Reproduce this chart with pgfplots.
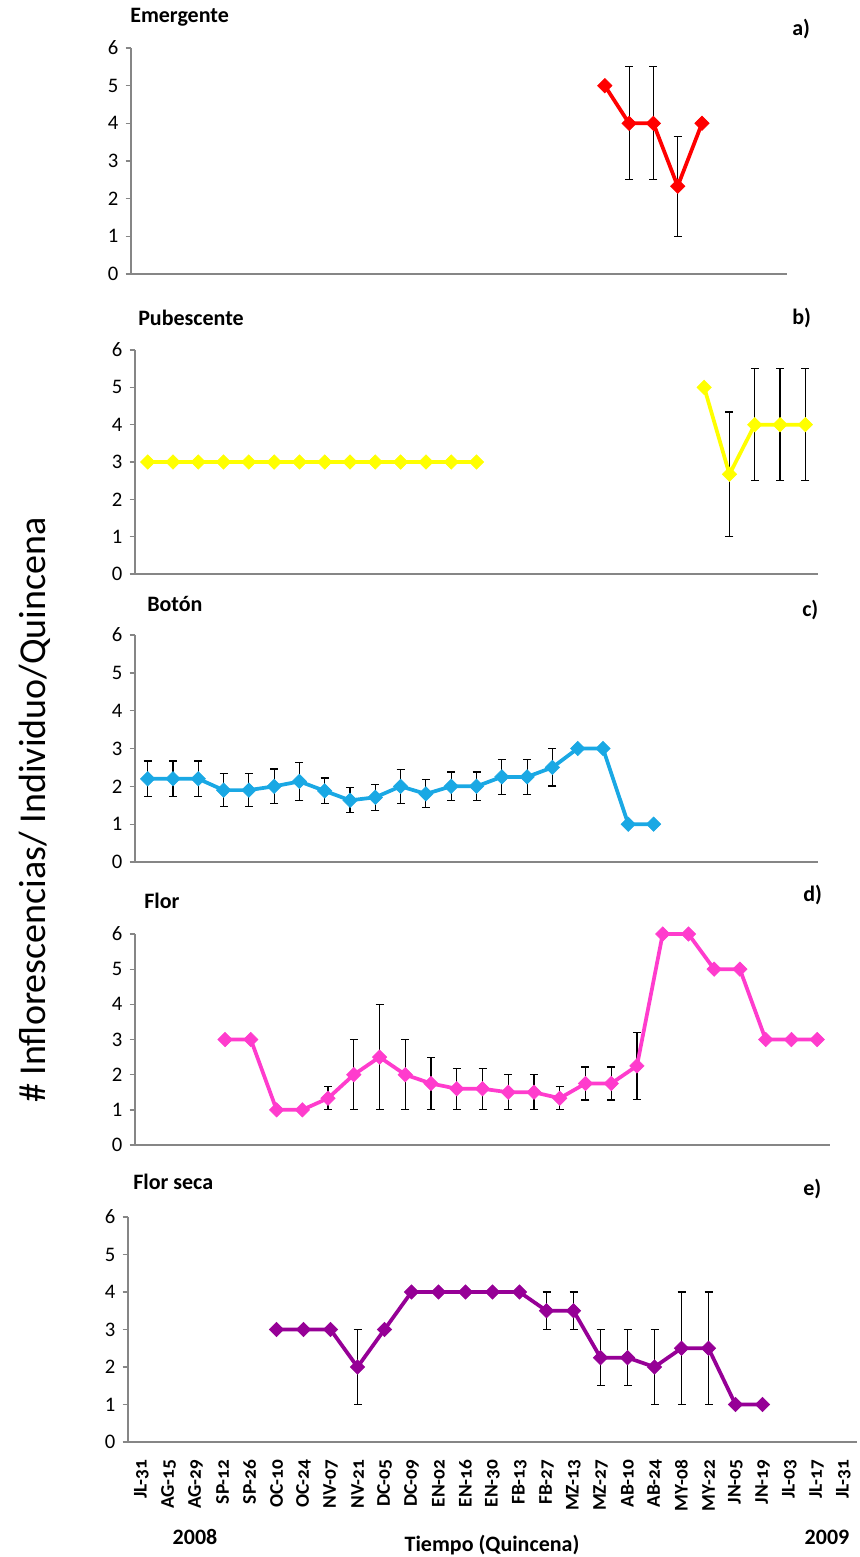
\documentclass[border=0pt]{standalone}
\usepackage{fontspec}
\setmainfont{Carlito}
\usepackage{pgfplots}
\usepackage{pgfplotstable}
\pgfplotsset{compat=1.18}
\newfontfamily\calb[Numbers=OldStyle]{Carlito}
\definecolor{axgray}{RGB}{134,134,134}
\definecolor{cred}{RGB}{255,0,0}
\definecolor{cyel}{RGB}{255,255,0}
\definecolor{cblue}{RGB}{26,168,228}
\definecolor{cpink}{RGB}{255,60,205}
\definecolor{cpurp}{RGB}{150,0,150}
\def\u{0.75bp}

\pgfplotstableread{
x y e
19 5 0
20 4 1.5
21 4 1.5
22 2.33 1.33
23 4 0
}\emergente

\pgfplotstableread{
x y e
0 3 0
1 3 0
2 3 0
3 3 0
4 3 0
5 3 0
6 3 0
7 3 0
8 3 0
9 3 0
10 3 0
11 3 0
12 3 0
13 3 0
14 nan 0
22 5 0
23 2.67 1.67
24 4 1.5
25 4 1.5
26 4 1.5
}\pubescente

\pgfplotstableread{
x y e
0 2.2 0.47
1 2.2 0.47
2 2.2 0.47
3 1.9 0.43
4 1.9 0.43
5 2.0 0.46
6 2.13 0.5
7 1.88 0.34
8 1.63 0.33
9 1.71 0.35
10 2.0 0.45
11 1.8 0.37
12 2.0 0.38
13 2.0 0.38
14 2.25 0.46
15 2.25 0.46
16 2.5 0.49
17 3 0
18 3 0
19 1 0
20 1 0
}\boton

\pgfplotstableread{
x y e
3 3 0
4 3 0
5 1 0
6 1 0
7 1.33 0.33
8 2 1
9 2.5 1.5
10 2 1
11 1.75 0.75
12 1.6 0.58
13 1.6 0.58
14 1.5 0.5
15 1.5 0.5
16 1.33 0.33
17 1.75 0.47
18 1.75 0.47
19 2.25 0.95
20 6 0
21 6 0
22 5 0
23 5 0
24 3 0
25 3 0
26 3 0
}\flor

\pgfplotstableread{
x y e
5 3 0
6 3 0
7 3 0
8 2 1
9 3 0
10 4 0
11 4 0
12 4 0
13 4 0
14 4 0
15 3.5 0.5
16 3.5 0.5
17 2.25 0.75
18 2.25 0.75
19 2 1
20 2.5 1.5
21 2.5 1.5
22 1 0
23 1 0
}\florseca

\pgfplotsset{
  panel/.style={scale only axis, anchor=south west,
    xmin=-0.5, xmax=26.5, ymin=0, ymax=6,
    axis lines*=left,
    axis line style={draw=axgray, line width=1.1bp},
    ytick={0,1,2,3,4,5,6}, xtick=\empty,
    tick align=outside, major tick length=4bp,
    ytick style={draw=axgray, line width=1bp},
    yticklabel style={font=\fontsize{15.5bp}{15.5bp}\selectfont, /pgf/number format/assume math mode=true, xshift=-2bp},
    clip=false, unbounded coords=jump},
  ebars/.style={draw=none, mark=none, forget plot,
    error bars/.cd, y dir=both, y explicit,
    error bar style={draw=black, line width=0.85bp},
    error mark options={rotate=90, draw=black, mark size=3bp, line width=0.85bp}},
  serie/.style={color=#1, line width=2.8bp, mark=square*, mark size=3.8bp,
    mark options={rotate=45, solid, fill=#1, draw=#1, line width=0.5bp}},
}

\begin{document}
\begin{tikzpicture}
\path[use as bounding box] (0,0) rectangle ({859*\u},{-1557*\u});

% a) Emergente
\begin{axis}[panel, at={({131*\u},{-274*\u})}, width={656*\u}, height={226*\u}]
\addplot[ebars] table[x=x, y=y, y error=e] {\emergente};
\addplot[serie=cred] table[x=x, y=y] {\emergente};
\end{axis}

% b) Pubescente
\begin{axis}[panel, at={({135*\u},{-574*\u})}, width={683*\u}, height={224*\u}]
\addplot[ebars] table[x=x, y=y, y error=e] {\pubescente};
\addplot[serie=cyel] table[x=x, y=y] {\pubescente};
\end{axis}

% c) Boton
\begin{axis}[panel, at={({135*\u},{-862*\u})}, width={683*\u}, height={227*\u}]
\addplot[ebars] table[x=x, y=y, y error=e] {\boton};
\addplot[serie=cblue] table[x=x, y=y] {\boton};
\end{axis}

% d) Flor
\begin{axis}[panel, at={({135*\u},{-1145*\u})}, width={695*\u}, height={211*\u}]
\addplot[ebars] table[x=x, y=y, y error=e] {\flor};
\addplot[serie=cpink] table[x=x, y=y] {\flor};
\end{axis}

% e) Flor seca
\begin{axis}[panel, at={({128*\u},{-1442*\u})}, width={729*\u}, height={225*\u},
  xtick={0,...,26},
  xticklabels={JL-31,AG-15,AG-29,SP-12,SP-26,OC-10,OC-24,NV-07,NV-21,DC-05,DC-09,EN-02,EN-16,EN-30,FB-13,FB-27,MZ-13,MZ-27,AB-10,AB-24,MY-08,MY-22,JN-05,JN-19,JL-03,JL-17,JL-31},
  x tick style={draw=none},
  xticklabel style={rotate=90, anchor=east, inner sep=0pt, font=\calb\bfseries\fontsize{14.5bp}{14.5bp}\selectfont},
  xticklabel shift={9bp}]
\addplot[ebars] table[x=x, y=y, y error=e] {\florseca};
\addplot[serie=cpurp] table[x=x, y=y] {\florseca};
\end{axis}

\begin{scope}[every node/.style={inner sep=0pt, font=\bfseries\fontsize{16.5bp}{16.5bp}\selectfont}]
\node[anchor=west] at ({130*\u},{-17*\u}) {Emergente};
\node[anchor=west] at ({792*\u},{-29*\u}) {a)};
\node[anchor=west] at ({138*\u},{-318*\u}) {Pubescente};
\node[anchor=west] at ({792*\u},{-318*\u}) {b)};
\node[anchor=west] at ({147*\u},{-604*\u}) {Botón};
\node[anchor=west] at ({802*\u},{-610*\u}) {c)};
\node[anchor=west] at ({144*\u},{-901*\u}) {Flor};
\node[anchor=west] at ({803*\u},{-895*\u}) {d)};
\node[anchor=west] at ({133*\u},{-1182*\u}) {Flor seca};
\node[anchor=west] at ({803*\u},{-1189*\u}) {e)};
\node at ({195*\u},{-1537*\u}) {2008};
\node at ({492*\u},{-1545*\u}) {Tiempo (Quincena)};
\node at ({827*\u},{-1537*\u}) {2009};
\end{scope}
\node[rotate=90, inner sep=0pt, font=\fontsize{28.5bp}{28.5bp}\selectfont] at ({35*\u},{-810*\u}) {\# Inflorescencias/ Individuo/Quincena};
\end{tikzpicture}
\end{document}
